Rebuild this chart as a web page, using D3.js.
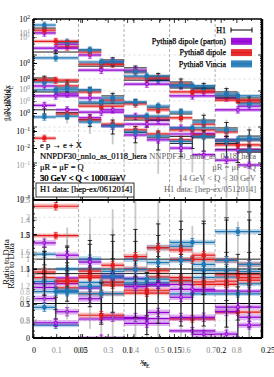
<!DOCTYPE html>
<html><head><meta charset="utf-8">
<script src="https://cdn.jsdelivr.net/npm/d3@7"></script>
<style>body{margin:0;background:#fff}</style>
</head><body><svg id="c" width="274" height="377"></svg>
<script>
// ---------------- DATA ----------------
const xEdgesFine = [0,0.025,0.05,0.075,0.1,0.125,0.15,0.175,0.2,0.225,0.25];
const xEdgesCoarse = [0,0.05,0.1,0.15,0.2,0.25];
const seriesNames = ["H1","Pythia8 dipole (parton)","Pythia8 dipole","Pythia8 Vincia"];
const seriesColors = ["#000000","#9400d3","#e41a1c","#1f77b4"];

// set A (fine bins, highest Q range)
const setA_h1     = [56, 23, 13.8, 7.3, 4.4, 2.6, 1.78, 1.38, 0.94, 0.56];
const setA_h1Err  = [0.1,0.15,0.2,0.25,0.2,0.3,0.35,0.3,0.4,0.4];
const setA_parton = [41, 20, 10, 6.4, 3.8, 2.0, 1.38, 0.94, 0.64, 0.38];
const setA_dipole = [49, 16.7, 12.1, 5.6, 3.4, 2.3, 1.56, 1.07, 0.73, 0.49];
const setA_vincia = [68, 23, 13.8, 6.4, 3.4, 2.0, 1.47, 1.21, 0.83, 0.44];
// set B (coarse bins)
const setB_h1     = [12.1, 4.9, 2.0, 1.21, 0.64];
const setB_h1Err  = [0.15, 0.25, 0.3, 0.35, 0.4];
const setB_parton = [15.6, 3.8, 1.56, 0.73, 0.30];
const setB_dipole = [24, 5.6, 2.3, 0.94, 0.56];
const setB_vincia = [8.3, 6.4, 2.6, 1.38, 0.73];
// set C (fine bins, lower)
const setC_h1     = [2.3, 1.78, 1.07, 0.73, 0.49, 0.34, 0.23, 0.156, 0.094, 0.056];
const setC_h1Err  = [0.2,0.2,0.25,0.3,0.3,0.4,0.5,0.6,0.7,0.8];
const setC_parton = [1.38, 0.83, 0.64, 0.30, 0.20, 0.156, 0.094, 0.064, 0.044, 0.023];
const setC_dipole = [2.0, 1.38, 0.94, 0.56, 0.44, 0.30, 0.18, 0.12, 0.073, 0.044];
const setC_vincia = [1.78, 1.21, 1.07, 0.64, 0.49, 0.38, 0.26, 0.138, 0.083, 0.049];
// set D (coarse bins, lower)
const setD_h1     = [0.94, 0.44, 0.156, 0.055, 0.024];
const setD_h1Err  = [0.3, 0.4, 0.6, 0.9, 0.95];
const setD_parton = [0.73, 0.26, 0.12, 0.064, 0.023];
const setD_dipole = [2.0, 0.38, 0.18, 0.083, 0.032];
const setD_vincia = [1.07, 0.49, 0.20, 0.094, 0.044];
// set E (fine bins, lowest Q range)
const setE_h1     = [0.30, 0.25, 0.16, 0.11, 0.07, 0.05, 0.035, 0.05, 0.035, 0.02];
const setE_h1Err  = [0.4,0.5,0.6,0.7,0.8,0.9,0.95,0.95,0.97,0.97];
const setE_parton = [0.40, 0.30, 0.18, 0.107, 0.060, 0.044, 0.026, 0.017, 0.012, 0.0088];
const setE_dipole = [0.049, 0.23, 0.156, 0.12, 0.083, 0.064, 0.044, 0.06, 0.04, 0.022];
const setE_vincia = [0.19, 0.20, 0.138, 0.107, 0.073, 0.056, 0.04, 0.055, 0.04, 0.022];

// ratio-panel y ranges of the overlaid plots
const ratioDomains = [[0,2],[0.5,2.5],[0.2,1.6],[0.6,2.2],[0.3,1.8]];

// tick labels
const xTicksBlack = [0,0.05,0.1,0.15,0.2,0.25];
const xTicksGray  = [0.1,0.2,0.3,0.4,0.5,0.6,0.7,0.8];
const xGrid       = [0.05,0.1,0.15,0.2];
const yTicksMain  = [1e2,1e-3];
const yTicksB     = [1,1e-2];
const yTicksC     = [1,1e-1];
const yTicksD     = [10,1];
const yTicksE     = [10,1,1e-1];
const yTicksF     = [1];
const rTicksA = [0,0.5,1,1.5];
const rTicksB = [1,1.5,2,2.5];
const rTicksC = [0.6,1,1.4];
const rTicksD = [0.8,1,1.2,1.4,1.6,1.8,2];
const rTicksE = [0.5,0.8,1,1.2];

const annotLeft  = ["e p \u2192 e + X","NNPDF30_nnlo_as_0118_hera","\u03bcR = \u03bcF = Q","30 GeV < Q < 1000 GeV","H1 data: [hep-ex/0612014]"];
const annotRight = ["NNPDF30_nnlo_as_0118_hera","\u03bcR = \u03bcF = Q","14 GeV < Q < 30 GeV","H1 data: [hep-ex/0512014]"];

// ---------------- LAYOUT ----------------
const L=33,R=262,T=19,M=200,B=338;
const FONT="Liberation Serif";
const svg=d3.select("#c");
const defs=svg.append("defs");
defs.append("clipPath").attr("id","cu").append("rect").attr("x",L).attr("y",T).attr("width",R-L).attr("height",M-T);
defs.append("clipPath").attr("id","cl").append("rect").attr("x",L).attr("y",M).attr("width",R-L).attr("height",B-M);

const x = d3.scaleLinear().domain([0,0.2515]).range([L,R]);
const xBlack = d3.scaleLinear().domain([0,0.25]).range([34,268]);
const xGray = d3.scaleLinear().domain([0,0.9]).range([31,262.6]);
const yU = d3.scaleLog().domain([1e-3,1e2]).range([199,T]);
const yB = d3.scaleLog().domain([1e-2,1]).range([148,63]);
const yC = d3.scaleLog().domain([0.1,1]).range([131,79]);
const yD = d3.scaleLog().domain([1,10]).range([89,33]);
const yE = d3.scaleLog().domain([0.1,10]).range([165,37]);
const yF = d3.scaleLog().domain([0.01,1]).range([199,113]);
const rScales = ratioDomains.map(d=>d3.scaleLinear().domain(d).range([B,M]));

// grid
const grid=svg.append("g");
xGrid.forEach(v=>{
  grid.append("line").attr("x1",x(v)).attr("x2",x(v)).attr("y1",T).attr("y2",B)
    .attr("stroke","#999").attr("stroke-width",0.8).attr("stroke-dasharray","3,2");
});
[[yU,[10,1,0.1,0.01]],[yC,[1,0.1]],[yE,[1]]].forEach(([s,t])=>t.forEach(v=>{
  grid.append("line").attr("x1",L).attr("x2",R).attr("y1",s(v)).attr("y2",s(v))
    .attr("stroke","#ddd").attr("stroke-width",0.7).attr("stroke-dasharray","3,2");
}));
[[rScales[0],rTicksA],[rScales[1],rTicksB],[rScales[3],rTicksD]].forEach(([s,t])=>t.forEach(v=>{
  if(s(v)>M+1&&s(v)<B-1)
  grid.append("line").attr("x1",L).attr("x2",R).attr("y1",s(v)).attr("y2",s(v))
    .attr("stroke","#ddd").attr("stroke-width",0.7).attr("stroke-dasharray","3,2");
}));

// ---------------- MARKS ----------------
const sets=[
 {e:xEdgesFine,h1:setA_h1,err:setA_h1Err,mc:[setA_parton,setA_dipole,setA_vincia],r:rScales[0]},
 {e:xEdgesCoarse,h1:setB_h1,err:setB_h1Err,mc:[setB_parton,setB_dipole,setB_vincia],r:rScales[1]},
 {e:xEdgesFine,h1:setC_h1,err:setC_h1Err,mc:[setC_parton,setC_dipole,setC_vincia],r:rScales[2]},
 {e:xEdgesCoarse,h1:setD_h1,err:setD_h1Err,mc:[setD_parton,setD_dipole,setD_vincia],r:rScales[3]},
 {e:xEdgesFine,h1:setE_h1,err:setE_h1Err,mc:[setE_parton,setE_dipole,setE_vincia],r:rScales[4]},
];
const gU=svg.append("g").attr("clip-path","url(#cu)");
const gL=svg.append("g").attr("clip-path","url(#cl)");
const uBandU=0.12, uBandL=0.03;

function marker(g,k,cx,cy,c){
  if(k===2) g.append("circle").attr("cx",cx).attr("cy",cy).attr("r",2.4).attr("fill",c);
  else { const s=k===1?4.0:3.4;
    g.append("rect").attr("x",cx-s/2).attr("y",cy-s/2).attr("width",s).attr("height",s).attr("fill",c);
    if(k===0) g.append("path").attr("d",`M${cx-1.4},${cy-1.4}L${cx+1.4},${cy+1.4}M${cx-1.4},${cy+1.4}L${cx+1.4},${cy-1.4}`).attr("stroke","#d9a0f0").attr("stroke-width",0.6);
  }
}
function mcMark(g,k,x0,x1,y,yLo,yHi,c){
  g.append("rect").attr("x",x0).attr("width",x1-x0).attr("y",yHi).attr("height",Math.max(0,yLo-yHi))
    .attr("fill",c).attr("opacity",0.3);
  g.append("line").attr("x1",x0).attr("x2",x1).attr("y1",y).attr("y2",y).attr("stroke",c).attr("stroke-width",1.2);
  const xc=(x0+x1)/2;
  g.append("line").attr("x1",xc).attr("x2",xc).attr("y1",yHi-1.2).attr("y2",yLo+1.2).attr("stroke",c).attr("stroke-width",0.9);
  [yHi-1.2,yLo+1.2].forEach(yy=>g.append("line").attr("x1",xc-2).attr("x2",xc+2).attr("y1",yy).attr("y2",yy).attr("stroke",c).attr("stroke-width",0.8));
  marker(g,k,xc,y,c);
}
function h1Mark(g,x0,x1,y,yLo,yHi,yLs,yHs){
  const xc=(x0+x1)/2;
  g.append("line").attr("x1",xc).attr("x2",xc).attr("y1",yHi).attr("y2",yLo).attr("stroke","#888").attr("stroke-width",1.8).attr("opacity",0.45);
  g.append("line").attr("x1",x0).attr("x2",x1).attr("y1",y).attr("y2",y).attr("stroke","#000").attr("stroke-width",0.9);
  g.append("line").attr("x1",xc).attr("x2",xc).attr("y1",yHs).attr("y2",yLs).attr("stroke","#000").attr("stroke-width",0.8);
  [yHs,yLs].forEach(yy=>g.append("line").attr("x1",xc-2.2).attr("x2",xc+2.2).attr("y1",yy).attr("y2",yy).attr("stroke","#000").attr("stroke-width",0.8));
}

sets.forEach(s=>{
  s.h1.forEach((v,i)=>{
    const x0=x(s.e[i]),x1=x(s.e[i+1]);
    const e=s.err[i];
    h1Mark(gU,x0,x1,yU(v),yU(Math.max(v*(1-e),1e-5)),yU(v*(1+e)),yU(v*(1-0.6*e)),yU(v*(1+0.6*e)));
    s.mc.forEach((arr,k)=>{
      const m=arr[i];
      mcMark(gU,k,x0,x1,yU(m),yU(m*(1-uBandU)),yU(m*(1+uBandU)),seriesColors[k+1]);
    });
    h1Mark(gL,x0,x1,s.r(1),s.r(1-e),s.r(1+e),s.r(1-0.6*e),s.r(1+0.6*e));
    s.mc.forEach((arr,k)=>{
      const q=arr[i]/v;
      mcMark(gL,k,x0,x1,s.r(q),s.r(q-uBandL),s.r(q+uBandL),seriesColors[k+1]);
    });
  });
});

// ---------------- AXES ----------------
function supFmt(g){
  g.selectAll(".tick text").each(function(d){
    const t=d3.select(this), ex=Math.round(Math.log10(d));
    t.text(null);
    t.append("tspan").text("10");
    t.append("tspan").attr("dy",-3.5).attr("font-size","5.5px").text(ex<0?"\u2212"+(-ex):ex);
  });
}
function leftAxis(scale,ticks,color,log,fmt){
  const ax=d3.axisLeft(scale).tickValues(ticks).tickSize(-4).tickPadding(3);
  if(fmt) ax.tickFormat(fmt);
  const g=svg.append("g").attr("transform",`translate(${L},0)`).call(ax);
  g.select(".domain").remove();
  g.attr("font-family",FONT).attr("font-size",8);
  g.selectAll("line").attr("stroke",color);
  g.selectAll("text").attr("fill",color);
  if(log) supFmt(g);
  return g;
}
leftAxis(yE,yTicksE,"#999",true);
leftAxis(yD,yTicksD,"#888",true);
leftAxis(yB,yTicksB,"#000",true);
leftAxis(yC,yTicksC,"#000",true);
leftAxis(yF,yTicksF,"#000",true);
leftAxis(yU,yTicksMain,"#000",true);
leftAxis(rScales[4],rTicksE,"#aaa",false,d3.format(""));
leftAxis(rScales[3],rTicksD,"#999",false,d3.format(""));
leftAxis(rScales[2],rTicksC,"#999",false,d3.format(""));
leftAxis(rScales[1],rTicksB,"#777",false,d3.format(""));
leftAxis(rScales[0],rTicksA,"#000",false,d3.format(""));

const minor=[];
for(let p=-3;p<2;p++) for(let m=2;m<10;m++) minor.push(m*Math.pow(10,p));
const tk=svg.append("g").attr("stroke","#000").attr("stroke-width",0.8);
minor.forEach(v=>{
  tk.append("line").attr("x1",L).attr("x2",L+2).attr("y1",yU(v)).attr("y2",yU(v));
  tk.append("line").attr("x1",R-2).attr("x2",R).attr("y1",yU(v)).attr("y2",yU(v));
});
[1e-2,1e-1,1,10].forEach(v=>{
  tk.append("line").attr("x1",L).attr("x2",L+4).attr("y1",yU(v)).attr("y2",yU(v));
  tk.append("line").attr("x1",R-4).attr("x2",R).attr("y1",yU(v)).attr("y2",yU(v));
});
d3.range(0,2,0.1).forEach(v=>{
  const yy=rScales[0](v), len=(Math.round(v*10)%5===0)?4:2;
  tk.append("line").attr("x1",L).attr("x2",L+len).attr("y1",yy).attr("y2",yy);
  tk.append("line").attr("x1",R-len).attr("x2",R).attr("y1",yy).attr("y2",yy);
});
xTicksGray.concat([0.9]).forEach(v=>{
  const xx=xGray(v); if(xx>R) return;
  [[B,B-4],[M,M-3],[M,M+3],[T,T+4]].forEach(([a,b])=>tk.append("line").attr("x1",xx).attr("x2",xx).attr("y1",a).attr("y2",b));
});
xTicksBlack.forEach(v=>{
  const xx=xBlack(v); if(xx>R) return;
  [[B,B-4],[M,M-3],[T,T+4]].forEach(([a,b])=>tk.append("line").attr("x1",xx).attr("x2",xx).attr("y1",a).attr("y2",b));
});
d3.range(0,0.25,0.01).forEach(v=>{
  [[B,B-2],[T,T+2]].forEach(([a,b])=>tk.append("line").attr("x1",x(v)).attr("x2",x(v)).attr("y1",a).attr("y2",b));
});

const xl=svg.append("g").attr("font-family",FONT).attr("font-size",8).attr("text-anchor","middle");
xTicksGray.forEach(v=>xl.append("text").attr("x",xGray(v)).attr("y",353).attr("fill","#888").text(v));
xTicksBlack.forEach(v=>xl.append("text").attr("x",xBlack(v)).attr("y",353).attr("fill","#000").text(d3.format("")(v)));

const fr=svg.append("g").attr("stroke","#000").attr("fill","none");
fr.append("line").attr("x1",L).attr("x2",R).attr("y1",T).attr("y2",T).attr("stroke-width",1.5);
fr.append("line").attr("x1",L).attr("x2",R).attr("y1",M).attr("y2",M).attr("stroke-width",2.2);
fr.append("line").attr("x1",L).attr("x2",R).attr("y1",B).attr("y2",B).attr("stroke-width",2);
fr.append("line").attr("x1",L).attr("x2",L).attr("y1",T).attr("y2",B).attr("stroke-width",1.6);
fr.append("line").attr("x1",R).attr("x2",R).attr("y1",T).attr("y2",B).attr("stroke-width",2.4);

const at=svg.append("g").attr("font-family",FONT).attr("font-size",8.5).attr("text-anchor","middle").attr("fill","#000");
function ytitle(xx,yy,main,sub){
  const t=at.append("text").attr("transform",`translate(${xx},${yy}) rotate(-90)`);
  t.append("tspan").text(main);
  if(sub) t.append("tspan").attr("dy",2).attr("font-size","6px").text(sub);
}
ytitle(10,103,"1/N dN/dx","");
ytitle(11,104,"1/\u03c3 d\u03c3/dx","E");
ytitle(9,262,"Ratio to Data");
ytitle(14,266,"Ratio to Data");
[[144,364],[146,366]].forEach(([xx,yy])=>{
  const t=at.append("text").attr("x",xx).attr("y",yy);
  t.append("tspan").attr("font-style","italic").text("x");
  t.append("tspan").attr("dy",2).attr("font-size","6px").text("E");
});

const an=svg.append("g").attr("font-family",FONT).attr("font-size",8.5);
annotRight.forEach((s,i)=>an.append("text").attr("x",256).attr("y",159+i*11).attr("text-anchor","end").attr("fill","#666").text(s));
annotLeft.forEach((s,i)=>an.append("text").attr("x",40).attr("y",148+i*11).attr("fill","#000").attr("stroke","#000").attr("stroke-width",0.2).text(s));
an.append("text").attr("x",40).attr("y",181).attr("fill","#000").text("50 GeV < Q < 100 GeV");
an.append("rect").attr("x",36).attr("y",183).attr("width",98).attr("height",14).attr("fill","none").attr("stroke","#000").attr("stroke-width",0.8);

const lg=svg.append("g").attr("font-family",FONT).attr("font-size",8);
seriesNames.forEach((s,i)=>{
  const yy=30+i*11.3;
  lg.append("text").attr("x",226).attr("y",yy+2.8).attr("text-anchor","end").attr("fill","#000").attr("stroke","#000").attr("stroke-width",0.25).text(s);
  if(i===0){
    lg.append("line").attr("x1",231).attr("x2",252).attr("y1",yy).attr("y2",yy).attr("stroke","#000").attr("stroke-width",1);
    [231,252].forEach(xx=>lg.append("line").attr("x1",xx).attr("x2",xx).attr("y1",yy-2.5).attr("y2",yy+2.5).attr("stroke","#000").attr("stroke-width",1));
  } else {
    lg.append("rect").attr("x",231).attr("y",yy-3.5).attr("width",21).attr("height",7).attr("fill",seriesColors[i]).attr("opacity",0.9);
    lg.append("line").attr("x1",231).attr("x2",252).attr("y1",yy).attr("y2",yy).attr("stroke",seriesColors[i]).attr("stroke-width",1.2);
  }
});
</script></body></html>
